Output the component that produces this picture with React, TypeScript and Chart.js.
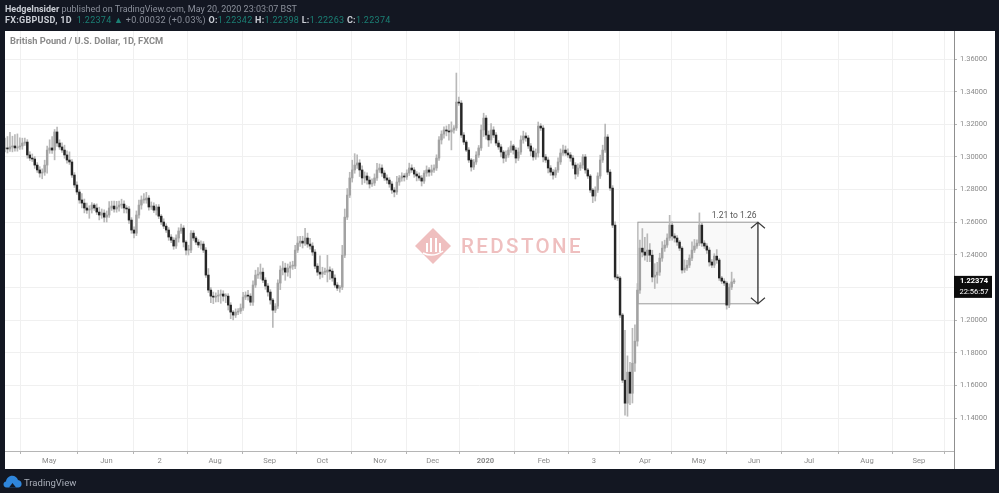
import React, { useEffect, useRef } from "react";
import { Chart, registerables } from "chart.js";

Chart.register(...registerables);

const firstOpen = 1.3050;
const closes = [
  1.3055,1.3049,1.3061,1.3067,1.3055,1.3061,1.3067,1.3085,1.3091,1.3012,
  1.2993,1.2987,1.2950,1.2920,1.2901,1.2907,1.2950,1.3042,1.3055,1.3042,
  1.3153,1.3085,1.3061,1.3042,1.3012,1.2981,1.2969,1.2889,1.2828,1.2785,
  1.2736,1.2717,1.2687,1.2674,1.2681,1.2705,1.2687,1.2662,1.2644,1.2656,
  1.2631,1.2644,1.2687,1.2699,1.2681,1.2693,1.2705,1.2711,1.2687,1.2681,
  1.2613,1.2552,1.2533,1.2644,1.2705,1.2736,1.2736,1.2748,1.2693,1.2699,
  1.2674,1.2693,1.2637,1.2601,1.2576,1.2552,1.2509,1.2490,1.2454,1.2503,
  1.2546,1.2564,1.2478,1.2429,1.2429,1.2533,1.2503,1.2478,1.2460,1.2466,
  1.2429,1.2276,1.2184,1.2147,1.2141,1.2147,1.2153,1.2160,1.2147,1.2147,
  1.2092,1.2049,1.2031,1.2049,1.2055,1.2074,1.2141,1.2153,1.2147,1.2110,
  1.2215,1.2276,1.2282,1.2294,1.2245,1.2209,1.2172,1.2123,1.2061,1.2086,
  1.2227,1.2307,1.2319,1.2294,1.2319,1.2331,1.2331,1.2429,1.2472,1.2484,
  1.2472,1.2503,1.2466,1.2454,1.2417,1.2331,1.2294,1.2282,1.2294,1.2294,
  1.2307,1.2300,1.2258,1.2215,1.2196,1.2202,1.2398,1.2631,1.2766,1.2871,
  1.2920,1.2950,1.2963,1.2920,1.2871,1.2883,1.2858,1.2834,1.2840,1.2871,
  1.2920,1.2932,1.2901,1.2871,1.2858,1.2834,1.2797,1.2785,1.2846,1.2871,
  1.2883,1.2877,1.2901,1.2932,1.2920,1.2895,1.2883,1.2871,1.2852,1.2901,
  1.2920,1.2907,1.2920,1.2932,1.2993,1.3104,1.3140,1.3165,1.3159,1.3153,
  1.3165,1.3177,1.3336,1.3330,1.3134,1.3091,1.3042,1.2981,1.2938,1.2969,
  1.3012,1.3055,1.3165,1.3238,1.3134,1.3104,1.3165,1.3134,1.3085,1.3061,
  1.3030,1.2993,1.3012,1.3042,1.3067,1.3042,1.2993,1.3030,1.3104,1.3128,
  1.3116,1.3067,1.3036,1.3000,1.3024,1.3189,1.3177,1.3000,1.2981,1.2932,
  1.2907,1.2889,1.2920,1.2969,1.3024,1.3042,1.3024,1.3012,1.2993,1.2950,
  1.2895,1.2932,1.2950,1.3000,1.2920,1.2883,1.2797,1.2760,1.2797,1.2883,
  1.2981,1.3042,1.3122,1.2907,1.2809,1.2582,1.2264,1.2258,1.2031,1.1632,
  1.1491,1.1681,1.1552,1.1736,1.1871,1.2184,1.2441,1.2417,1.2398,1.2429,
  1.2398,1.2264,1.2276,1.2294,1.2380,1.2441,1.2460,1.2503,1.2582,1.2515,
  1.2503,1.2478,1.2441,1.2307,1.2319,1.2337,1.2380,1.2429,1.2454,1.2472,
  1.2582,1.2472,1.2454,1.2429,1.2356,1.2337,1.2392,1.2368,1.2258,1.2239,
  1.2227,1.2092,1.2202,1.2234,1.22374,
];
// wick lengths above / below each candle body, in pips
const upperWicks = [
  60,70,90,60,70,80,50,30,25,15,
  20,25,15,15,20,20,30,25,50,70,
  15,30,20,25,30,25,50,15,15,20,
  15,40,25,30,20,15,10,25,30,25,
  20,25,40,30,30,35,25,30,20,15,
  15,15,20,25,30,25,40,35,15,25,
  20,15,15,10,20,15,15,15,15,20,
  20,25,15,10,30,15,15,10,15,20,
  15,15,40,15,25,20,30,25,20,15,
  15,15,10,20,15,25,30,20,30,15,
  25,30,40,50,25,15,15,15,10,15,
  20,25,40,30,25,25,30,30,40,30,
  30,60,30,35,20,15,15,100,30,25,
  90,20,15,20,15,10,60,50,40,35,
  60,70,50,20,25,25,20,20,25,25,
  40,25,20,15,20,15,15,15,35,15,
  20,15,20,30,20,15,15,20,15,15,
  25,15,30,20,20,20,20,20,25,40,
  50,15,178,30,15,15,10,15,10,15,
  20,15,30,30,15,25,40,20,15,15,
  15,10,25,15,30,10,15,25,25,30,
  20,15,15,20,25,25,15,15,15,15,
  15,15,15,25,25,30,25,25,15,15,
  15,25,15,15,15,10,10,10,20,20,
  30,30,80,15,15,15,20,15,10,10,
  306,100,60,214,100,40,50,120,90,100,
  40,30,70,60,30,40,30,25,60,20,
  15,15,10,10,50,30,20,50,40,20,
  75,15,15,15,15,15,15,40,10,10,
  15,10,20,60,15,
];
const lowerWicks = [
  20,25,15,30,20,20,15,20,15,20,
  15,15,20,15,25,35,20,50,20,20,
  60,20,15,15,20,20,15,15,15,15,
  20,30,30,20,50,25,15,15,30,20,
  30,30,15,15,20,20,25,20,30,25,
  20,20,30,15,20,25,20,20,20,15,
  15,30,15,15,15,15,20,15,20,15,
  25,15,30,30,30,15,15,15,15,25,
  15,15,15,40,40,30,35,50,30,40,
  30,40,30,15,15,15,15,15,25,20,
  20,15,20,30,15,20,25,25,105,15,
  15,40,30,50,25,60,20,15,15,20,
  30,15,20,20,20,15,20,30,20,15,
  60,50,20,15,15,25,15,15,15,15,
  25,20,20,40,40,30,25,25,15,15,
  15,15,20,15,20,20,20,30,15,20,
  20,25,15,15,15,20,30,15,30,15,
  20,25,20,15,15,15,25,25,30,50,
  110,20,15,15,15,15,10,15,25,15,
  15,15,15,40,25,40,20,15,15,15,
  30,30,20,15,15,25,30,15,15,20,
  20,15,30,20,15,25,15,30,15,30,
  20,25,15,15,15,15,15,15,20,20,
  30,15,15,20,20,15,15,40,30,15,
  15,15,15,15,15,15,15,15,15,15,
  73,80,70,60,50,30,20,30,30,40,
  40,30,70,50,20,20,20,15,15,25,
  25,20,15,20,15,15,15,15,15,15,
  15,20,15,20,25,15,15,20,15,15,
  15,25,15,15,10,
];

const priceTicks = [1.36,1.34,1.32,1.30,1.28,1.26,1.24,1.22,1.20,1.18,1.16,1.14];
const timeLabels = ["May","Jun","2","Aug","Sep","Oct","Nov","Dec","2020","Feb","3","Apr","May","Jun","Jul","Aug","Sep"];
const timePositions = [17.8,40.9,62.4,84.7,106.7,128.0,151.2,172.5,193.7,217.3,237.5,258.0,279.8,302.0,324.2,347.6,368.5];

const rangeHigh = 1.26;
const rangeLow = 1.21;
const rangeStart = 255.2;
const rangeEnd = 303.6;
const rangeLabel = "1.21 to 1.26";
const lastPrice = 1.22374;
const lastPriceLabel = "1.22374";
const countdownLabel = "22:56:57";
const sourceTitle = "British Pound / U.S. Dollar, 1D, FXCM";
const watermark = "REDSTONE";

const UP = "#a2a2a2";
const DOWN = "#262626";
const WICK = "#b9b9b9";
const FONT = "Roboto, 'Liberation Sans', sans-serif";

const chartDecor = {
  id: "chartDecor",
  beforeDatasetsDraw(chart: any) {
    const { ctx, scales: { x, y } } = chart;
    ctx.save();
    // watermark
    const cx = 433, cy = 246, r = 18;
    ctx.fillStyle = "#efbfbf";
    ctx.beginPath();
    ctx.moveTo(cx, cy - r); ctx.lineTo(cx + r, cy); ctx.lineTo(cx, cy + r); ctx.lineTo(cx - r, cy);
    ctx.closePath(); ctx.fill();
    ctx.fillStyle = "#ffffff";
    [[-7,-3,2,9],[-3,-8,2,14],[2,-8,2,14],[6,-3,2,9]].forEach(([dx,dy,w,h]) => ctx.fillRect(cx+dx, cy+dy, w, h));
    ctx.strokeStyle = "#ffffff"; ctx.lineWidth = 1.5;
    ctx.beginPath(); ctx.moveTo(cx-10, cy+7); ctx.quadraticCurveTo(cx, cy+12, cx+10, cy+5); ctx.stroke();
    ctx.fillStyle = "#efbfbf";
    ctx.font = "500 20.5px Roboto, sans-serif";
    ctx.letterSpacing = "2.4px";
    ctx.textAlign = "left"; ctx.textBaseline = "middle";
    ctx.fillText(watermark, 461, 248);
    ctx.letterSpacing = "0px";

    // range box
    const l = x.getPixelForValue(rangeStart), rr = x.getPixelForValue(rangeEnd);
    const t = y.getPixelForValue(rangeHigh), b = y.getPixelForValue(rangeLow);
    ctx.fillStyle = "rgba(238,238,238,0.38)";
    ctx.fillRect(l, t, rr - l, b - t);
    ctx.strokeStyle = "#9a9a9a"; ctx.lineWidth = 1;
    ctx.strokeRect(l, t, rr - l, b - t);
    ctx.restore();
  },
  afterDatasetsDraw(chart: any) {
    const { ctx, scales: { x, y }, chartArea } = chart;
    ctx.save();
    const rr = x.getPixelForValue(rangeEnd);
    const t = y.getPixelForValue(rangeHigh), b = y.getPixelForValue(rangeLow);
    // arrow
    ctx.strokeStyle = "#3c3c3c"; ctx.lineWidth = 1.2;
    ctx.beginPath();
    ctx.moveTo(rr, t); ctx.lineTo(rr, b);
    ctx.moveTo(rr - 7, t + 6); ctx.lineTo(rr, t); ctx.lineTo(rr + 7, t + 6);
    ctx.moveTo(rr - 7, b - 6); ctx.lineTo(rr, b); ctx.lineTo(rr + 7, b - 6);
    ctx.stroke();
    ctx.fillStyle = "#555555";
    ctx.font = `8.5px ${FONT}`;
    ctx.textAlign = "center"; ctx.textBaseline = "middle";
    ctx.fillText(rangeLabel, x.getPixelForValue(rangeEnd - 9.6), t - 6);

    // price-scale line, reaches the bottom of the panel
    ctx.strokeStyle = "#8f8f8f"; ctx.lineWidth = 1;
    ctx.beginPath();
    ctx.moveTo(chartArea.right + 0.5, chartArea.top);
    ctx.lineTo(chartArea.right + 0.5, 469);
    ctx.stroke();

    // source title
    ctx.fillStyle = "#8a8a8a";
    ctx.font = `bold 9.3px ${FONT}`;
    ctx.textAlign = "left";
    ctx.fillText(sourceTitle, 10, 42);

    // last price tag
    const py = y.getPixelForValue(lastPrice);
    ctx.fillStyle = "#0c0c0c";
    ctx.fillRect(chartArea.right, py - 5.5, 38, 22);
    ctx.fillStyle = "#ffffff";
    ctx.font = `bold 7.5px ${FONT}`;
    ctx.textAlign = "center";
    ctx.fillText(lastPriceLabel, chartArea.right + 20, py);
    ctx.font = `7.5px ${FONT}`;
    ctx.fillText(countdownLabel, chartArea.right + 20, py + 11);
    ctx.restore();
  },
};

export default function App() {
  const ref = useRef<HTMLCanvasElement>(null);
  useEffect(() => {
    const opens = closes.map((_, i) => (i === 0 ? firstOpen : closes[i - 1]));
    const bodies = closes.map((c, i) => ({ x: i, y: [opens[i], c] }));
    const wicks = closes.map((c, i) => ({
      x: i,
      y: [Math.min(opens[i], c) - lowerWicks[i] / 10000, Math.max(opens[i], c) + upperWicks[i] / 10000],
    }));
    const colors = closes.map((c, i) => (c >= opens[i] ? UP : DOWN));
    const chart = new Chart(ref.current!, {
      type: "bar",
      data: {
        datasets: [
          { data: wicks as any, backgroundColor: WICK, barThickness: 1, grouped: false, order: 2 },
          { data: bodies as any, backgroundColor: colors, barThickness: 1.8, minBarLength: 1, grouped: false, order: 1 },
        ],
      },
      options: {
        animation: false,
        responsive: false,
        devicePixelRatio: 1,
        layout: { padding: { left: 5, right: 4, top: 31, bottom: 24 } },
        plugins: { legend: { display: false }, tooltip: { enabled: false }, title: { display: false } },
        scales: {
          x: {
            type: "linear",
            offset: false,
            min: 0,
            max: 382.66,
            afterBuildTicks: (s: any) => { s.ticks = timePositions.map((v) => ({ value: v })); },
            afterFit: (s: any) => { s.height = 18; },
            grid: { color: "#f0f0f0", tickColor: "#b5b5b5", tickLength: 3, lineWidth: 1 },
            border: { color: "#b5b5b5" },
            ticks: {
              autoSkip: false,
              maxRotation: 0,
              padding: 3,
              color: "#8a8a8a",
              font: (c: any) => ({
                family: FONT,
                size: 7.6,
                weight: timeLabels[timePositions.indexOf(c.tick?.value)] === "2020" ? "bold" : "normal",
              }),
              callback: (v: any) => timeLabels[timePositions.indexOf(v)] ?? "",
            },
          },
          y: {
            position: "right",
            min: 1.11980,
            max: 1.37716,
            afterBuildTicks: (s: any) => { s.ticks = priceTicks.map((v) => ({ value: v })); },
            afterFit: (s: any) => { s.width = 41; },
            grid: { color: "#f0f0f0", tickColor: "#b5b5b5", tickLength: 3, lineWidth: 1 },
            border: { color: "#8f8f8f" },
            ticks: {
              autoSkip: false,
              padding: 3,
              color: "#8a8a8a",
              font: { family: FONT, size: 7.5 },
              callback: (v: any) => Number(v).toFixed(5),
            },
          },
        },
      },
      plugins: [chartDecor],
    });
    return () => chart.destroy();
  }, []);

  const teal = { color: "#1b7f74" };
  const strong = { color: "#c9cdd4" };
  return (
    <div style={{ position: "fixed", left: 0, top: 0, width: 999, height: 493, background: "#131722", overflow: "hidden", fontFamily: FONT, filter: "blur(0.75px)" }}>
      <div style={{ position: "absolute", left: 5, top: 31, width: 990, height: 438, background: "#ffffff" }} />
      <canvas ref={ref} width={999} height={493} style={{ position: "absolute", left: 0, top: 0, width: 999, height: 493 }} />
      <div style={{ position: "absolute", left: 5, top: 4, fontSize: 9, lineHeight: "10px", color: "#8b909b", whiteSpace: "nowrap" }}>
        <b style={strong}>HedgeInsider</b> published on TradingView.com, May 20, 2020 23:03:07 BST
      </div>
      <div style={{ position: "absolute", left: 5, top: 15, fontSize: 9, lineHeight: "10px", letterSpacing: "0.28px", color: "#8b909b", whiteSpace: "nowrap" }}>
        <b style={strong}>FX:GBPUSD, 1D</b>&nbsp; <span style={teal}>1.22374</span> <span style={teal}>▲</span> <span>+0.00032 (+0.03%)</span>{" "}
        <b style={strong}>O:</b><span style={teal}>1.22342</span>{" "}
        <b style={strong}>H:</b><span style={teal}>1.22398</span>{" "}
        <b style={strong}>L:</b><span style={teal}>1.22263</span>{" "}
        <b style={strong}>C:</b><span style={teal}>1.22374</span>
      </div>
      <svg width="19" height="13" viewBox="0 0 19 13" style={{ position: "absolute", left: 3, top: 475 }}>
        <path d="M3.5 12.5C1.5 12.5 0.5 11 0.5 9.5C0.5 8 1.5 6.8 3 6.6C3.3 3.2 6 0.8 9.2 0.8C12 0.8 14.2 2.5 15 5C17.2 5.3 18.6 7 18.6 9C18.6 11 17.2 12.5 15.2 12.5Z" fill="#2f86dc" />
        <path d="M6 12.5L9.5 8L13 12.5Z" fill="#131722" />
      </svg>
      <div style={{ position: "absolute", left: 24, top: 477, fontSize: 9.5, lineHeight: "11px", color: "#a9aeb9", whiteSpace: "nowrap" }}>TradingView</div>
    </div>
  );
}
